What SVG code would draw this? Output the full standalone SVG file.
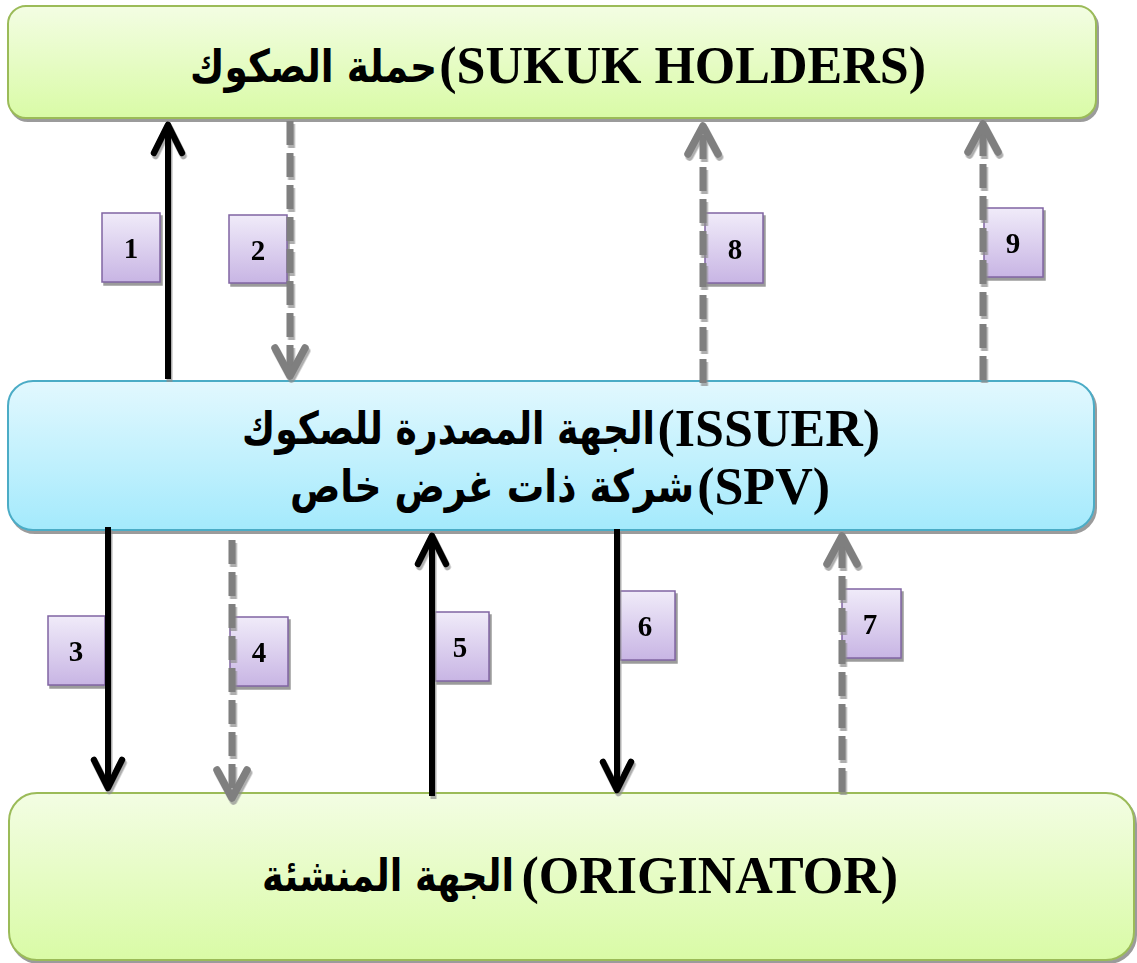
<svg xmlns="http://www.w3.org/2000/svg" width="1137" height="963" viewBox="0 0 1137 963">
  <defs>
    <linearGradient id="gGreen" x1="0" y1="0" x2="0" y2="1">
      <stop offset="0" stop-color="#f3fde3"/>
      <stop offset="1" stop-color="#d9fba6"/>
    </linearGradient>
    <linearGradient id="gBlue" x1="0" y1="0" x2="0" y2="1">
      <stop offset="0" stop-color="#e2f8fe"/>
      <stop offset="1" stop-color="#a4eafc"/>
    </linearGradient>
    <linearGradient id="gLilac" x1="0" y1="0" x2="0" y2="1">
      <stop offset="0" stop-color="#f0ebf9"/>
      <stop offset="1" stop-color="#c8b5e4"/>
    </linearGradient>
    <filter id="shadow" x="-10%" y="-10%" width="130%" height="130%">
      <feDropShadow dx="2" dy="3" stdDeviation="0.7" flood-color="#7a7a7a" flood-opacity="0.75"/>
    </filter>
    <filter id="lineShadow" x="-50%" y="-5%" width="200%" height="115%">
      <feDropShadow dx="1.5" dy="3" stdDeviation="0.6" flood-color="#8c8c8c" flood-opacity="0.7"/>
    </filter>
  </defs>
  <style>
    .en { font-family: "Liberation Serif", "Times New Roman", serif; font-weight: bold; font-size: 52px; fill: #000; }
    .ar { font-family: "DejaVu Sans", sans-serif; font-weight: bold; font-size: 45px; fill: #000; }
    .num { font-family: "Liberation Serif", "Times New Roman", serif; font-weight: bold; font-size: 29px; fill: #000; text-anchor: middle; }
    .green { fill: url(#gGreen); stroke: #9bbb59; stroke-width: 2; }
    .blue { fill: url(#gBlue); stroke: #4bacc6; stroke-width: 2; }
    .tag { fill: url(#gLilac); stroke: #8064a2; stroke-width: 1.5; }
    .solid { fill: none; stroke: #000; stroke-width: 6; stroke-linecap: butt; }
    .solid-head { fill: none; stroke: #000; stroke-width: 6.5; stroke-linecap: round; stroke-linejoin: round; }
    .dash { fill: none; stroke: #7f7f7f; stroke-width: 7; stroke-dasharray: 24 8; }
    .dash-head { fill: none; stroke: #7f7f7f; stroke-width: 7.5; stroke-linecap: round; stroke-linejoin: round; }
  </style>

  <rect width="1137" height="963" fill="#ffffff"/>

  <!-- parties -->
  <g id="holders" filter="url(#shadow)">
    <rect class="green" x="8" y="6" width="1088" height="112" rx="18"/>
  </g>
  <g id="holders-label">
    <text class="ar" x="437" y="82" text-anchor="end" textLength="247" lengthAdjust="spacingAndGlyphs">حملة الصكوك</text>
    <text class="en" x="926" y="83" text-anchor="end">(SUKUK HOLDERS)</text>
  </g>

  <g id="issuer" filter="url(#shadow)">
    <rect class="blue" x="8" y="381" width="1086" height="149" rx="25"/>
  </g>
  <g id="issuer-label">
    <text class="ar" x="655" y="444" text-anchor="end" textLength="413" lengthAdjust="spacingAndGlyphs">الجهة المصدرة للصكوك</text>
    <text class="en" x="880" y="446" text-anchor="end">(ISSUER)</text>
    <text class="ar" x="694" y="502" text-anchor="end" textLength="404" lengthAdjust="spacingAndGlyphs">شركة ذات غرض خاص</text>
    <text class="en" x="830" y="504" text-anchor="end">(SPV)</text>
  </g>

  <g id="originator" filter="url(#shadow)">
    <rect class="green" x="9" y="793" width="1125" height="167" rx="28"/>
  </g>
  <g id="originator-label">
    <text class="ar" x="514" y="891" text-anchor="end" textLength="252" lengthAdjust="spacingAndGlyphs">الجهة المنشئة</text>
    <text class="en" x="898" y="893" text-anchor="end">(ORIGINATOR)</text>
  </g>

  <!-- step numbers -->
  <g id="steps">
    <g id="step1" filter="url(#shadow)"><rect class="tag" x="102" y="213" width="58" height="69"/><text class="num" x="131" y="258">1</text></g>
    <g id="step2" filter="url(#shadow)"><rect class="tag" x="229" y="215" width="58" height="68"/><text class="num" x="258" y="260">2</text></g>
    <g id="step3" filter="url(#shadow)"><rect class="tag" x="48" y="616" width="57" height="69"/><text class="num" x="76" y="661">3</text></g>
    <g id="step4" filter="url(#shadow)"><rect class="tag" x="230" y="617" width="58" height="69"/><text class="num" x="259" y="662">4</text></g>
    <g id="step5" filter="url(#shadow)"><rect class="tag" x="435" y="612" width="54" height="69"/><text class="num" x="460" y="657">5</text></g>
    <g id="step6" filter="url(#shadow)"><rect class="tag" x="620" y="591" width="55" height="69"/><text class="num" x="645" y="636">6</text></g>
    <g id="step7" filter="url(#shadow)"><rect class="tag" x="842" y="589" width="59" height="69"/><text class="num" x="870" y="634">7</text></g>
    <g id="step8" filter="url(#shadow)"><rect class="tag" x="705" y="213" width="58" height="70"/><text class="num" x="735" y="259">8</text></g>
    <g id="step9" filter="url(#shadow)"><rect class="tag" x="984" y="208" width="59" height="69"/><text class="num" x="1013" y="253">9</text></g>
  </g>

  <!-- flows: solid = contracts/assets, dashed = payments -->
  <g id="connectors">
    <!-- 1: issuer -> holders -->
    <g filter="url(#lineShadow)">
      <path class="solid" d="M168 379 V126"/>
      <path class="solid-head" d="M154 153 L168 125 L182 153"/>
    </g>
    <!-- 2: holders -> issuer -->
    <g filter="url(#lineShadow)">
      <path class="dash" d="M290 121 V374"/>
      <path class="dash-head" d="M275 348 L290 376 L305 348"/>
    </g>
    <!-- 8: issuer -> holders -->
    <g filter="url(#lineShadow)">
      <path class="dash" d="M703 383 V128"/>
      <path class="dash-head" d="M688 154 L703 126 L718 154"/>
    </g>
    <!-- 9: issuer -> holders -->
    <g filter="url(#lineShadow)">
      <path class="dash" d="M983 380 V126"/>
      <path class="dash-head" d="M968 152 L983 124 L998 152"/>
    </g>
    <!-- 3: issuer -> originator -->
    <g filter="url(#lineShadow)">
      <path class="solid" d="M108 527 V786"/>
      <path class="solid-head" d="M94 760 L108 788 L122 760"/>
    </g>
    <!-- 4: issuer -> originator -->
    <g filter="url(#lineShadow)">
      <path class="dash" d="M232 540 V796"/>
      <path class="dash-head" d="M217 770 L232 798 L247 770"/>
    </g>
    <!-- 5: originator -> issuer -->
    <g filter="url(#lineShadow)">
      <path class="solid" d="M432 796 V538"/>
      <path class="solid-head" d="M418 564 L432 536 L446 564"/>
    </g>
    <!-- 6: issuer -> originator -->
    <g filter="url(#lineShadow)">
      <path class="solid" d="M617 529 V788"/>
      <path class="solid-head" d="M603 762 L617 790 L631 762"/>
    </g>
    <!-- 7: originator -> issuer -->
    <g filter="url(#lineShadow)">
      <path class="dash" d="M842 792 V540"/>
      <path class="dash-head" d="M827 564 L842 536 L857 564"/>
    </g>
  </g>
</svg>
